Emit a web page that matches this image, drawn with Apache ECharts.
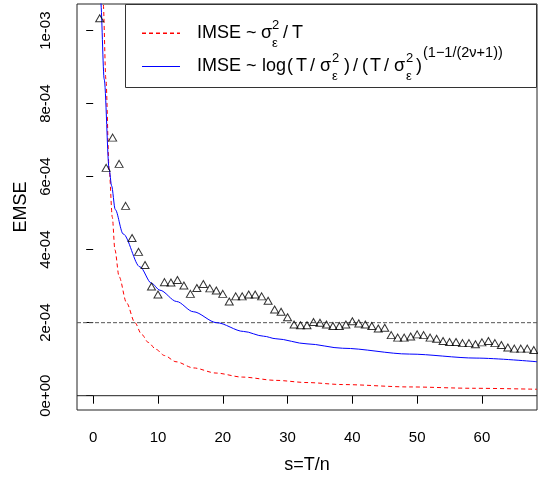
<!DOCTYPE html>
<html><head><meta charset="utf-8">
<script src="https://cdn.jsdelivr.net/npm/echarts@6/dist/echarts.min.js"></script>
<style>html,body{margin:0;padding:0;background:#fff;overflow:hidden}#c{width:538px;height:479px}</style>
</head><body><div id="c"></div>
<script>
// ---- data ----
const sValues = [1,2,3,4,5,6,7,8,9,10,11,12,13,14,15,16,17,18,19,20,21,22,23,24,25,26,27,28,29,30,31,32,33,34,35,36,37,38,39,40,41,42,43,44,45,46,47,48,49,50,51,52,53,54,55,56,57,58,59,60,61,62,63,64,65,66,67,68];
const emse = [
  1.034e-3, 6.24e-4, 7.07e-4, 6.35e-4, 5.20e-4, 4.32e-4, 3.94e-4, 3.58e-4, 2.99e-4, 2.77e-4,
  3.11e-4, 3.10e-4, 3.17e-4, 3.02e-4, 2.79e-4, 2.95e-4, 3.06e-4, 2.94e-4, 2.88e-4, 2.79e-4,
  2.58e-4, 2.72e-4, 2.72e-4, 2.77e-4, 2.77e-4, 2.72e-4, 2.60e-4, 2.36e-4, 2.30e-4, 2.15e-4,
  1.95e-4, 1.93e-4, 1.93e-4, 2.02e-4, 2.00e-4, 1.95e-4, 1.91e-4, 1.91e-4, 1.95e-4, 2.04e-4,
  1.98e-4, 1.95e-4, 1.91e-4, 1.84e-4, 1.86e-4, 1.66e-4, 1.59e-4, 1.59e-4, 1.62e-4, 1.68e-4,
  1.66e-4, 1.59e-4, 1.56e-4, 1.50e-4, 1.47e-4, 1.47e-4, 1.44e-4, 1.44e-4, 1.41e-4, 1.46e-4,
  1.50e-4, 1.44e-4, 1.39e-4, 1.32e-4, 1.29e-4, 1.29e-4, 1.29e-4, 1.25e-4
];
const redS = [1.3, 1.55, 1.96, 2.47, 2.95, 3.35, 4.0, 5.16, 6.44, 7.48, 8.5, 9.69, 11.0, 12.78, 15.5, 18.96, 23.0, 28.2, 33.0, 38.5, 48.8, 58.6, 68.5];
const redV = [1.30e-3, 1.073e-3, 8.67e-4, 6.19e-4, 4.89e-4, 4.0e-4, 3.26e-4, 2.54e-4, 2.00e-4, 1.68e-4, 1.46e-4, 1.27e-4, 1.10e-4, 9.3e-5, 7.6e-5, 6.2e-5, 5.1e-5, 4.2e-5, 3.6e-5, 3.05e-5, 2.40e-5, 2.03e-5, 1.76e-5];
const blueS = [1.0, 1.14, 1.70, 2.47, 2.84, 3.4, 4.63, 7.21, 9.0, 10.3, 12.88, 15.45, 19.06, 23.2, 26.3, 28.2, 33.0, 38.5, 48.8, 59.1, 68.5];
const blueV = [1.13e-3, 1.084e-3, 8.67e-4, 6.19e-4, 5.75e-4, 5.10e-4, 4.43e-4, 3.53e-4, 3.08e-4, 2.89e-4, 2.58e-4, 2.30e-4, 2.00e-4, 1.76e-4, 1.63e-4, 1.56e-4, 1.42e-4, 1.30e-4, 1.14e-4, 1.03e-4, 9.3e-5];
const xRange = [-2.5, 68.5];
const yRange = [-3.92e-5, 1.073e-3];
const xTicks = [0, 10, 20, 30, 40, 50, 60];
const yTicks = [0, 2e-4, 4e-4, 6e-4, 8e-4, 1e-3];
const yTickLabels = ['0e+00', '2e-04', '4e-04', '6e-04', '8e-04', '1e-03'];
const refLevel = 2e-4;
const zeroLevel = 0;
const xTitle = 's=T/n';
const yTitle = 'EMSE';

// ---- chart ----
const FONT = '"Liberation Sans", Arial, Helvetica, sans-serif';
const chart = echarts.init(document.getElementById('c'), null, {renderer: 'canvas'});
const zip = (a, b) => a.map((v, i) => [v, b[i]]);

function yLabel(v) {
  let best = 0, d = Infinity;
  yTicks.forEach((t, i) => { const dd = Math.abs(t - v); if (dd < d) { d = dd; best = i; } });
  return yTickLabels[best];
}

// legend: text tokens placed like the reference's plotmath layout
const MAIN = 18, SMALL = 13, EXP = 14.5;
function tok(s, x, yc, size) {
  return {type: 'text', x: x, y: yc, z: 101,
    style: {text: s, font: size + 'px ' + FONT, fill: '#000', verticalAlign: 'middle'}};
}
function supsub(x, yc) {
  return [tok('2', x, yc - 8, SMALL), tok('ε', x, yc + 10, SMALL)];
}
const y1 = 33, y2 = 66;
const legendTokens = [
  tok('IMSE', 197, y1, MAIN), tok('~', 246, y1, MAIN), tok('σ', 261, y1, MAIN)
].concat(supsub(272, y1)).concat([tok('/', 283, y1, MAIN), tok('T', 292, y1, MAIN)])
.concat([
  tok('IMSE', 197, y2, MAIN), tok('~', 246, y2, MAIN), tok('log', 262, y2, MAIN), tok('(', 287, y2, MAIN),
  tok('T', 296, y2, MAIN), tok('/', 310, y2, MAIN), tok('σ', 320, y2, MAIN)
]).concat(supsub(332, y2)).concat([
  tok(')', 344, y2, MAIN), tok('/', 353, y2, MAIN), tok('(', 362, y2, MAIN), tok('T', 370, y2, MAIN),
  tok('/', 384, y2, MAIN), tok('σ', 394, y2, MAIN)
]).concat(supsub(406, y2)).concat([
  tok(')', 416, y2, MAIN), tok('(1−1/(2ν+1))', 423, y2 - 13, EXP)
]);

// red dashed legend key as short filled dashes
const redKey = [];
for (let x = 142; x < 180; x += 7) {
  redKey.push({type: 'rect', z: 101, shape: {x: x, y: 32.5, width: Math.min(4, 180 - x), height: 1.5}, style: {fill: '#ff0000'}});
}

const graphics = [
  {type: 'rect', z: 100, shape: {x: 125.5, y: 4.5, width: 411, height: 83}, style: {fill: '#fff', stroke: '#333', lineWidth: 1}},
  {type: 'line', z: 101, shape: {x1: 142, y1: 66.5, x2: 180, y2: 66.5}, style: {stroke: '#0000ff', lineWidth: 1}}
].concat(redKey).concat(legendTokens);

chart.setOption({
  animation: false,
  backgroundColor: '#fff',
  textStyle: {fontFamily: FONT},
  grid: {left: 77, right: 1, top: 4, bottom: 64, show: true, borderColor: '#222', borderWidth: 1, backgroundColor: 'transparent'},
  xAxis: {
    type: 'value', min: xRange[0], max: xRange[1],
    name: xTitle, nameLocation: 'middle', nameGap: 46,
    nameTextStyle: {fontSize: 18, color: '#000', fontFamily: FONT},
    axisLine: {show: false},
    axisTick: {show: true, length: 8, customValues: xTicks, lineStyle: {color: '#000'}},
    axisLabel: {customValues: xTicks, margin: 20, fontSize: 15, color: '#000', fontFamily: FONT},
    splitLine: {show: false}
  },
  yAxis: {
    type: 'value', min: yRange[0], max: yRange[1],
    name: yTitle, nameLocation: 'middle', nameGap: 46,
    nameTextStyle: {fontSize: 18, color: '#000', fontFamily: FONT},
    axisLine: {show: false},
    axisTick: {show: true, length: 7, customValues: yTicks, lineStyle: {color: '#000'}},
    axisLabel: {customValues: yTicks, rotate: 90, margin: 24, fontSize: 15, color: '#000', fontFamily: FONT, formatter: yLabel},
    splitLine: {show: false}
  },
  graphic: graphics,
  series: [
    {
      type: 'line', data: [[xRange[0], zeroLevel], [xRange[1], zeroLevel]], showSymbol: false, symbol: 'none',
      lineStyle: {color: '#222', width: 1}, z: 2, silent: true
    },
    {
      type: 'line', data: [[xRange[0], refLevel], [xRange[1], refLevel]], showSymbol: false, symbol: 'none',
      lineStyle: {color: '#555', width: 1, type: 'dashed'}, z: 2, silent: true
    },
    {
      type: 'line', data: zip(redS, redV), showSymbol: false, symbol: 'none', smooth: 0.3, smoothMonotone: 'x',
      lineStyle: {color: '#ff0000', width: 1, type: [4, 3]}, z: 3, silent: true
    },
    {
      type: 'line', data: zip(blueS, blueV), showSymbol: false, symbol: 'none', smooth: 0.3, smoothMonotone: 'x',
      lineStyle: {color: '#0000ff', width: 1}, z: 3, silent: true
    },
    {
      type: 'scatter', data: zip(sValues, emse), symbol: 'triangle', symbolSize: [8, 7],
      itemStyle: {color: 'rgba(0,0,0,0)', borderColor: '#000', borderWidth: 1}, z: 4, silent: true
    }
  ]
});
</script>
</body></html>
